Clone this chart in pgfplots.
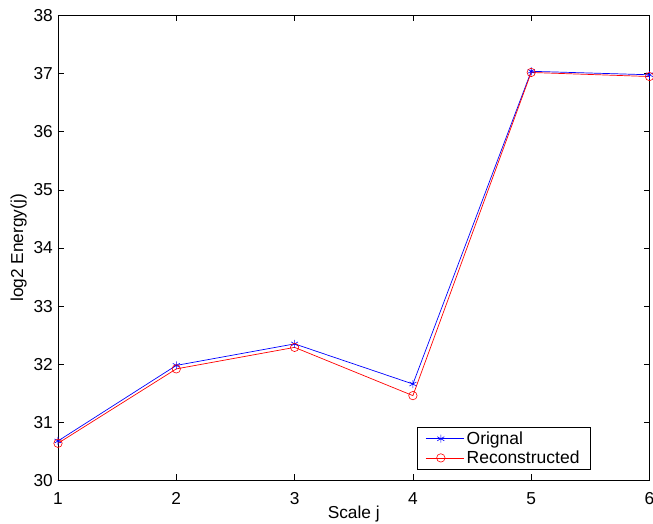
\documentclass[border=0pt]{standalone}
\usepackage{pgfplots}
\pgfplotsset{compat=1.18}
\usepackage{fontspec}
\setmainfont{Liberation Sans}
\begin{document}
\begin{tikzpicture}[x=1pt,y=1pt]
\begin{axis}[
  scale only axis,
  width=591.5pt, height=465pt,
  xmin=1, xmax=6, ymin=30, ymax=38,
  xtick={1,2,3,4,5,6}, ytick={30,31,...,38},
  tick align=inside,
  major tick length=6pt,
  tick style={black, line width=0.6pt},
  axis line style={line width=0.9pt},
  /pgf/number format/assume math mode=true,
  ticklabel style={font=\fontsize{17.3}{20}\selectfont, inner sep=0pt},
  xticklabel style={anchor=north, yshift=-12pt},
  yticklabel style={anchor=east, xshift=-5pt},
  label style={font=\fontsize{17.3}{20}\selectfont, inner sep=0pt},
  xlabel={Scale j},
  ylabel={log2 Energy(j)},
  xlabel style={at={(axis description cs:0.5,-0.0538)}, anchor=north},
  ylabel style={at={(axis description cs:-0.0524,0.5)}, anchor=south, rotate=0},
  legend style={at={(0.901,0.0237)}, anchor=south east, font=\fontsize{17.5}{20}\selectfont, draw=black, line width=0.9pt, inner xsep=8.5pt, inner ysep=1.5pt, row sep=0pt, nodes={inner sep=2.5pt}},
  legend cell align=left,
  legend image code/.code={\path (0pt,0pt) -- (38pt,0pt); \draw[mark repeat=2,mark phase=2] plot coordinates {(0pt,0pt) (15pt,0pt) (30pt,0pt)};},
]
\addplot[blue, line width=0.7pt, mark=asterisk, mark size=4pt, mark options={line width=0.6pt}] coordinates {
(1,30.68) (2,31.98) (3,32.35) (4,31.66) (5,37.04) (6,36.98)};
\addlegendentry{Orignal}
\addplot[red, line width=0.7pt, mark=o, mark size=4.2pt, mark options={line width=0.6pt}] coordinates {
(1,30.64) (2,31.92) (3,32.29) (4,31.46) (5,37.02) (6,36.95)};
\addlegendentry{Reconstructed}
\end{axis}
\pgfresetboundingbox
\path[use as bounding box] ([xshift=-58pt,yshift=-43.3pt]current axis.south west) rectangle ([xshift=3.5pt,yshift=15.5pt]current axis.north east);
\end{tikzpicture}
\end{document}
